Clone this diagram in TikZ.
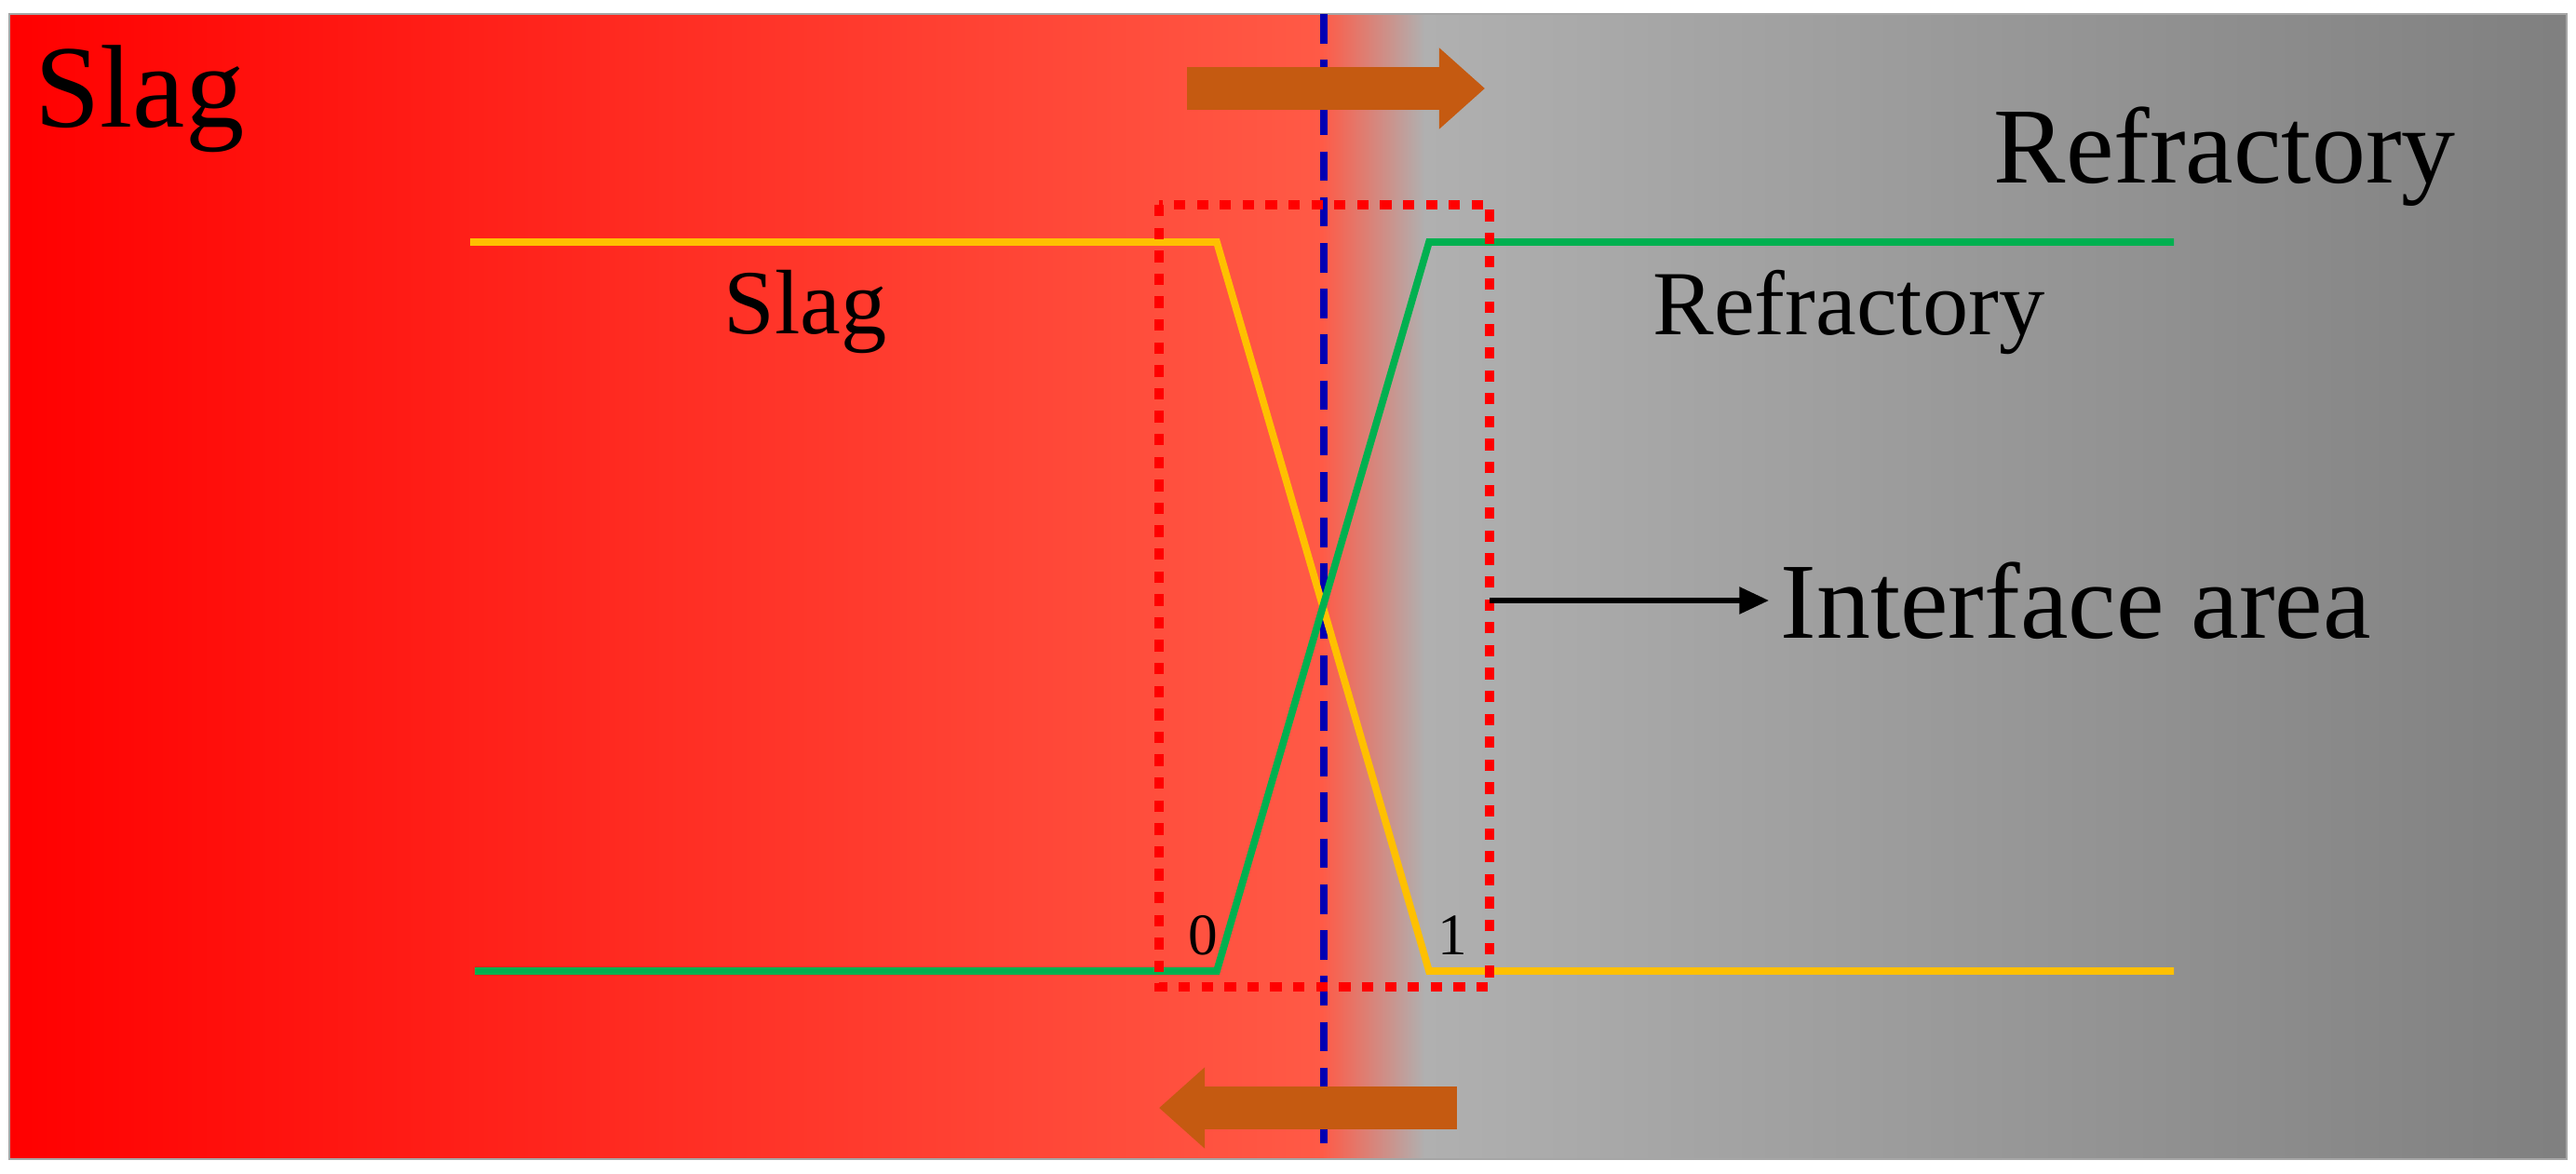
\documentclass[tikz,border=0pt]{standalone}
\usepackage{fontspec}
\setmainfont{Liberation Serif}
\usetikzlibrary{arrows.meta,positioning}
\definecolor{arrbrown}{RGB}{197,90,17}
\definecolor{lineyel}{RGB}{255,192,0}
\definecolor{linegrn}{RGB}{0,176,80}
\definecolor{redlight}{RGB}{255,90,70}
\tikzset{
  huge/.style={font=\fontsize{36}{40}\selectfont},
  big/.style={font=\fontsize{33}{38}\selectfont},
  mid/.style={font=\fontsize{28}{32}\selectfont},
  small/.style={font=\fontsize{18}{20}\selectfont,inner sep=1pt},
  fat arrow/.style={arrbrown,line width=13pt,-{Triangle[length=14pt,width=24pt]}},
  profile/.style={line width=2.2pt,line join=miter}
}
\begin{document}
\begin{tikzpicture}[x=1cm,y=-1cm]
  \useasboundingbox (0,0) rectangle (27.67,12.61);
  % background
  \shade[left color=red,right color=redlight] (0.1,0.15) rectangle (14.2,12.45);
  \shade[left color=redlight,right color=gray!62] (14.2,0.15) rectangle (15.3,12.45);
  \shade[left color=gray!62,right color=gray] (15.3,0.15) rectangle (27.57,12.45);
  \draw[gray!70,line width=0.8pt] (0.1,0.15) rectangle (27.57,12.45);
  \draw[blue!70!black,line width=2.4pt,dash pattern=on 9pt off 5pt] (14.22,0.15) -- (14.22,12.45);
  % phase labels
  \node[huge,anchor=west] (slagT) at (0.25,1.06) {Slag};
  \node[big,anchor=east] (refT) at (26.5,1.68) {Refractory};
  \node[mid] (slagL) at (8.65,3.35) {Slag};
  \node[mid] (refL) at (19.86,3.35) {Refractory};
  % diffusion arrows
  \coordinate (upA) at (12.75,0.95);
  \coordinate (upB) at (15.95,0.95);
  \coordinate (loA) at (15.65,11.9);
  \coordinate (loB) at (12.45,11.9);
  \draw[fat arrow] (upA) -- (upB);
  \draw[fat arrow] (loA) -- (loB);
  % concentration profiles
  \draw[profile,lineyel] (5.05,2.6) -- (13.07,2.6) -- (15.35,10.43) -- (23.35,10.43);
  \draw[profile,linegrn] (5.1,10.43) -- (13.07,10.43) -- (15.35,2.6) -- (23.35,2.6);
  % interface area
  \draw[red,line width=3pt,dash pattern=on 3.5pt off 3.5pt] (12.45,2.2) rectangle (16.0,10.6);
  \node[small] (zero) at (12.92,10.05) {0};
  \node[small] (one) at (15.6,10.05) {1};
  \coordinate (ifc) at (16.0,6.45);
  \node[big,anchor=west] (ifcL) at (19.0,6.45) {Interface area};
  \draw[line width=1.5pt,-{Triangle[length=9pt,width=8pt]}] (ifc) -- (ifcL.west);
\end{tikzpicture}
\end{document}
